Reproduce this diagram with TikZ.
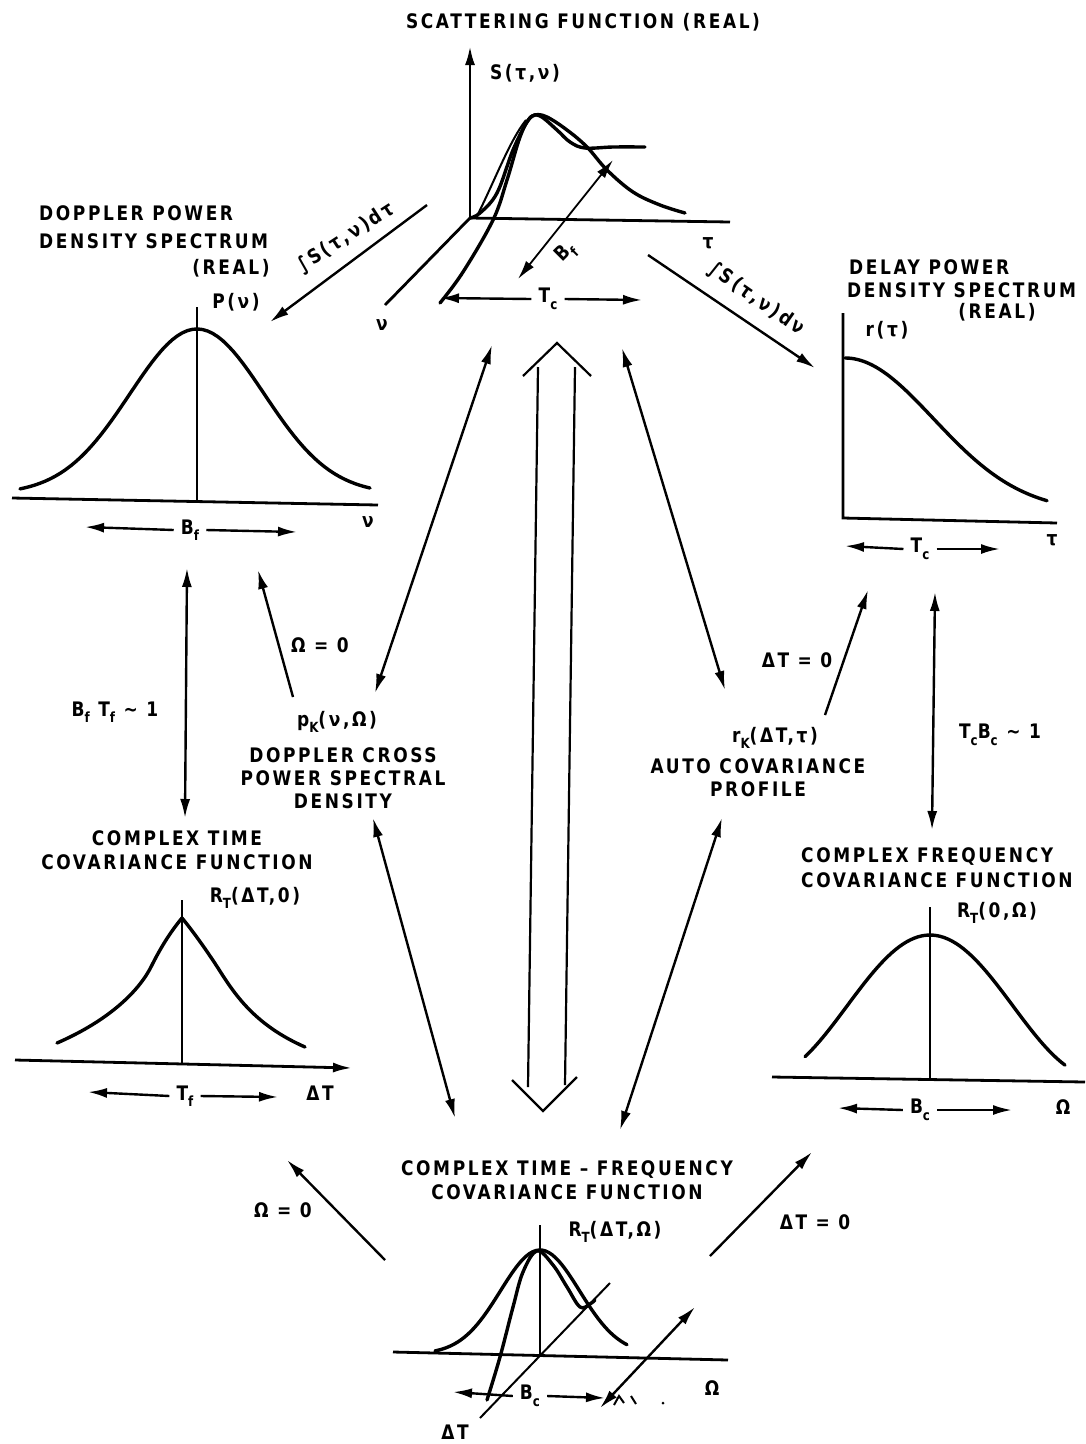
\documentclass[tikz,border=0pt]{standalone}
\usepackage{fontspec}
\setmainfont[LetterSpace=13,FakeStretch=0.85,BoldFont={DejaVu Sans Bold}]{DejaVu Sans}
\usetikzlibrary{arrows.meta}
\newcommand\sbx[1]{\raisebox{-0.6ex}{\fontsize{14}{14}\selectfont #1}}
\begin{document}
\begin{tikzpicture}[x=1pt,y=-1pt,
  lbl/.style={font=\fontsize{20}{24}\selectfont\bfseries, inner sep=1pt, align=center},
  gap/.style={lbl, inner xsep=7pt},
  ax/.style={line width=2.8pt},
  crv/.style={line width=3.4pt, line join=round, line cap=round},
  thin/.style={line width=2pt},
  arr/.style={line width=2.4pt, -{Latex[length=19pt,width=10pt]}},
  darr/.style={line width=2.4pt, {Latex[length=19pt,width=10pt]}-{Latex[length=19pt,width=10pt]}},
  axarr/.style={ax, -{Latex[length=19pt,width=10pt]}},
]
\path[use as bounding box, fill=white] (0,0) rectangle (1086,1444);

% ---------- Scattering function (top) ----------
\node[lbl] (title) at (583,22) {SCATTERING FUNCTION (REAL)};
\coordinate (O1) at (470,218);
\coordinate (O1top) at (470,46);
\coordinate (O1tau) at (730,222);
\coordinate (O1nu) at (385,305);
\draw[axarr] (O1) -- (O1top);
\draw[ax] (O1) -- (O1tau);
\draw[ax] (O1) -- (O1nu);
\node[lbl] (Slab) at (525,73) {S(τ,ν)};
\node[lbl] (taulab) at (708,243) {τ};
\node[lbl] (nulab) at (382,325) {ν};
\draw[crv] plot[smooth, tension=0.6] coordinates {(470,218) (480,213) (497,193) (513,150) (527,122) (535,115) (547,117) (567,130) (587,147) (607,170) (633,192) (660,205) (685,213)};
\draw[crv] plot[smooth, tension=0.6] coordinates {(440,303) (463,272) (493,220) (507,180) (520,137) (530,118) (540,116) (557,130) (570,142) (585,148) (613,147) (645,147)};
\draw[thin] (478,214) .. controls (495,180) and (510,140) .. (526,120);
\coordinate (BfA) at (613,160);
\coordinate (BfB) at (518,279);
\draw[darr, line width=1.8pt] (BfA) -- (BfB);
\node[lbl, rotate=45] (Bfin) at (566,253) {B\sbx{f}};
\node[gap] (Tctop) at (548,299) {T\sbx{c}};
\coordinate (TctopL) at (440,298);
\coordinate (TctopR) at (642,300);
\draw[arr] (Tctop.west) -- (TctopL);
\draw[arr] (Tctop.east) -- (TctopR);

% integrals
\coordinate (ilA) at (427,205);
\coordinate (ilB) at (270,322);
\draw[arr] (ilA) -- (ilB);
\node[lbl, rotate=33] (intl) at (346,238) {∫S(τ,ν)dτ};
\coordinate (irA) at (648,255);
\coordinate (irB) at (815,368);
\draw[arr] (irA) -- (irB);
\node[lbl, rotate=-35] (intr) at (756,299) {∫S(τ,ν)dν};

% ---------- Doppler power density spectrum ----------
\node[lbl, anchor=west] (dop1) at (38,213) {DOPPLER POWER};
\node[lbl, anchor=west] (dop2) at (38,241) {DENSITY SPECTRUM};
\node[lbl] (dop3) at (231,268) {(REAL)};
\node[lbl] (Pnu) at (236,302) {P(ν)};
\coordinate (dA) at (12,498);
\coordinate (dB) at (378,505);
\coordinate (dV1) at (197,307);
\coordinate (dV2) at (197,503);
\draw[ax] (dA) -- (dB);
\draw[ax] (dV1) -- (dV2);
\draw[crv] plot[domain=-177:173, samples=70] ({197+\x}, {494-165*exp(-(\x/95)^2)});
\node[lbl] (nud) at (368,522) {ν};
\node[gap] (Bfd) at (190,530) {B\sbx{f}};
\coordinate (BfdL) at (85,527);
\coordinate (BfdR) at (297,532);
\draw[arr] (Bfd.west) -- (BfdL);
\draw[arr] (Bfd.east) -- (BfdR);

% ---------- Delay power density spectrum ----------
\node[lbl, anchor=west] (del1) at (848,267) {DELAY POWER};
\node[lbl, anchor=west] (del2) at (846,290) {DENSITY SPECTRUM};
\node[lbl] (del3) at (997,312) {(REAL)};
\node[lbl] (rtau) at (887,330) {r(τ)};
\coordinate (eV1) at (843,313);
\coordinate (eO) at (843,518);
\coordinate (eH) at (1057,523);
\draw[ax] (eV1) -- (eO) -- (eH);
\draw[crv] plot[domain=0:202, samples=60] ({845+\x}, {512-154*exp(-(\x/125)^2)});
\node[lbl] (taue) at (1052,540) {τ};
\node[gap] (Tce) at (920,549) {T\sbx{c}};
\coordinate (TceL) at (845,546);
\coordinate (TceR) at (1000,549);
\draw[arr] (Tce.west) -- (TceL);
\draw[arr] (Tce.east) -- (TceR);

% ---------- middle connectors ----------
\coordinate (m1a) at (187,568);
\coordinate (m1b) at (185,818);
\draw[darr] (m1a) -- (m1b);
\node[lbl] (BfTf) at (115,712) {B\sbx{f} T\sbx{f} ∼ 1};
\coordinate (m2a) at (293,697);
\coordinate (m2b) at (258,570);
\draw[arr] (m2a) -- (m2b);
\node[lbl] (om1) at (320,645) {Ω = 0};
\coordinate (m3a) at (492,345);
\coordinate (m3b) at (375,693);
\draw[darr] (m3a) -- (m3b);
\node[lbl] (pK) at (337,722) {p\sbx{K}(ν,Ω)};
\node[lbl, font=\fontsize{20}{23}\selectfont\bfseries] (pKt) at (343,778) {DOPPLER CROSS\\POWER SPECTRAL\\DENSITY};

\coordinate (m4a) at (622,348);
\coordinate (m4b) at (725,690);
\draw[darr] (m4a) -- (m4b);
\coordinate (m5a) at (825,715);
\coordinate (m5b) at (868,590);
\draw[arr] (m5a) -- (m5b);
\node[lbl] (dt1) at (797,660) {ΔT = 0};
\coordinate (m6a) at (935,592);
\coordinate (m6b) at (932,830);
\draw[darr] (m6a) -- (m6b);
\node[lbl] (TcBc) at (1000,735) {T\sbx{c}B\sbx{c} ∼ 1};
\node[lbl] (rK) at (775,738) {r\sbx{K}(ΔT,τ)};
\node[lbl, font=\fontsize{20}{23}\selectfont\bfseries] (rKt) at (758,778) {AUTO COVARIANCE\\PROFILE};

% hollow central arrow
\draw[line width=2.2pt, line join=miter] (523,376) -- (557,343) -- (591,376);
\draw[line width=2.2pt] (538,367) -- (528,1087);
\draw[line width=2.2pt] (575,367) -- (565,1085);
\draw[line width=2.2pt, line join=miter] (512,1080) -- (543,1111) -- (577,1077);

\coordinate (m7a) at (373,818);
\coordinate (m7b) at (455,1118);
\draw[darr] (m7a) -- (m7b);
\coordinate (m8a) at (722,818);
\coordinate (m8b) at (620,1130);
\draw[darr] (m8a) -- (m8b);

% ---------- Complex time covariance function ----------
\node[lbl] (ct) at (177,850) {COMPLEX TIME\\COVARIANCE FUNCTION};
\node[lbl] (RTt) at (255,898) {R\sbx{T}(ΔT,0)};
\coordinate (tV1) at (182,900);
\coordinate (tV2) at (182,1064);
\coordinate (tH1) at (15,1060);
\coordinate (tH2) at (352,1068);
\coordinate (tP) at (182,918);
\coordinate (tL) at (57,1043);
\coordinate (tR) at (305,1047);
\draw[ax] (tV1) -- (tV2);
\draw[axarr] (tH1) -- (tH2);
\draw[crv] (tL) .. controls (110,1020) and (140,990) .. (152,965) .. controls (162,945) and (172,930) .. (tP)
  .. controls (192,930) and (205,948) .. (218,968) .. controls (235,995) and (255,1025) .. (tR);
\node[lbl] (dTt) at (320,1093) {ΔT};
\node[gap] (Tf) at (185,1096) {T\sbx{f}};
\coordinate (TfL) at (88,1092);
\coordinate (TfR) at (278,1097);
\draw[arr] (Tf.west) -- (TfL);
\draw[arr] (Tf.east) -- (TfR);

% ---------- Complex frequency covariance function ----------
\node[lbl, anchor=west] (cf1) at (800,857) {COMPLEX FREQUENCY};
\node[lbl, anchor=west] (cf2) at (800,880) {COVARIANCE FUNCTION};
\node[lbl] (RTf) at (997,913) {R\sbx{T}(0,Ω)};
\coordinate (fV1) at (930,907);
\coordinate (fV2) at (930,1079);
\coordinate (fH1) at (772,1077);
\coordinate (fH2) at (1085,1082);
\draw[ax] (fV1) -- (fV2);
\draw[ax] (fH1) -- (fH2);
\draw[crv] plot[domain=-125:135, samples=70] ({930+\x}, {1077-71*(1+cos(1.0843*\x))});
\node[lbl] (Omf) at (1063,1107) {Ω};
\node[gap] (Bcf) at (920,1110) {B\sbx{c}};
\coordinate (BcfL) at (838,1108);
\coordinate (BcfR) at (1012,1110);
\draw[arr] (Bcf.west) -- (BcfL);
\draw[arr] (Bcf.east) -- (BcfR);

% ---------- bottom connectors ----------
\coordinate (b1a) at (385,1260);
\coordinate (b1b) at (287,1160);
\draw[arr] (b1a) -- (b1b);
\node[lbl] (om2) at (283,1210) {Ω = 0};
\coordinate (b2a) at (710,1256);
\coordinate (b2b) at (812,1152);
\draw[arr] (b2a) -- (b2b);
\node[lbl] (dt2) at (815,1222) {ΔT = 0};

% ---------- Complex time-frequency covariance function ----------
\node[lbl] (ctf) at (567,1180) {COMPLEX TIME – FREQUENCY\\COVARIANCE FUNCTION};
\node[lbl] (RTtf) at (615,1232) {R\sbx{T}(ΔT,Ω)};
\coordinate (gV1) at (540,1225);
\coordinate (gO) at (540,1355);
\coordinate (gH1) at (393,1352);
\coordinate (gH2) at (728,1360);
\coordinate (gD1) at (480,1418);
\coordinate (gD2) at (610,1283);
\draw[ax] (gV1) -- (gO);
\draw[ax] (gH1) -- (gH2);
\draw[thin] (gD1) -- (gD2);
\draw[crv] plot[domain=-105:87, samples=60] ({540+\x}, {1354-104*exp(-(\x/56)^2)});
\draw[crv] plot[smooth, tension=0.6] coordinates {(487,1400) (500,1357) (513,1307) (523,1272) (537,1251) (553,1265) (567,1287) (580,1307) (590,1304) (595,1300)};
\node[lbl] (dTg) at (455,1432) {ΔT};
\node[lbl] (Omg) at (712,1388) {Ω};
\node[gap] (Bcg) at (530,1396) {B\sbx{c}};
\coordinate (BcgL) at (453,1392);
\coordinate (BcgR) at (605,1398);
\draw[arr] (Bcg.west) -- (BcgL);
\draw[arr] (Bcg.east) -- (BcgR);
\coordinate (gdA) at (600,1408);
\coordinate (gdB) at (695,1307);
\draw[darr] (gdA) -- (gdB);
\draw[thin] (614,1405) -- (619,1396) -- (624,1403);
\draw[thin] (631,1396) -- (636,1404);
\fill (663,1403) circle (1.5pt);
\end{tikzpicture}
\end{document}
